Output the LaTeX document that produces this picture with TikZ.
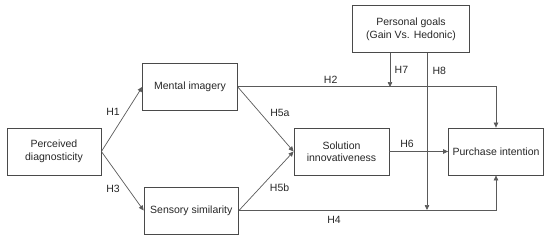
\documentclass[tikz,border=0pt]{standalone}
\usepackage{fontspec}
\setmainfont{Liberation Sans}
\usepackage{xcolor}
\usepackage{tikz}
\usetikzlibrary{arrows.meta,positioning}
\definecolor{edgegray}{HTML}{4A4A4A}
\definecolor{linegray}{HTML}{5A5A5A}

\begin{document}
\begin{tikzpicture}[x=1pt,y=-1pt,>={Triangle[length=5pt,width=4.5pt]},
    every node/.style={font=\fontsize{10.5}{12.5}\selectfont,text=black!85},
    varbox/.style={draw=edgegray,line width=0.8pt,align=center,inner sep=0pt,minimum height=47pt},
    path/.style={draw=linegray,line width=0.7pt}]
        \useasboundingbox (0,0) rectangle (550,241);
        \node[varbox,minimum width=94pt] (pd) at (54,151.5) {Perceived\\diagnosticity};
        \node[varbox,minimum width=94.5pt,minimum height=46.5pt] (mi) at (190,86.8) {Mental imagery};
        \node[varbox,minimum width=94.5pt] (ss) at (191.3,210.5) {Sensory similarity};
        \node[varbox,minimum width=95pt] (si) at (341.5,151.5) {Solution\\innovativeness};
        \node[varbox,minimum width=95pt] (pi) at (496,151.5) {Purchase intention};
        \node[varbox,minimum width=117.5pt] (pg) at (411,29.2) {Personal goals\\(Gain Vs. Hedonic)};
        \coordinate (h7) at (390,87);
        \coordinate (h8) at (427,210);
        % paths
        \draw[path,->] (pd.east) -- (mi.west) node[pos=0.61,left=3pt] {H1};
        \draw[path,->] (pd.east) -- (ss.west) node[pos=0.64,left=5pt] {H3};
        \draw[path,->] (mi.east) -- (si.west) node[pos=0.41,right=6pt] {H5a};
        \draw[path,->] (ss.east) -- (si.west) node[pos=0.39,right=6pt] {H5b};
        \draw[path,->] (si) -- (pi) node[pos=0.3,above] {H6};
        \draw[path,->] (mi.east) -| (pi.north) node[pos=0.18,above] {H2};
        \draw[path,->] (ss.east) -| (pi.south) node[pos=0.185,below=2pt] {H4};
        % moderation
        \draw[path,->] (pg.south -| h7) -- (h7) node[pos=0.5,right=1pt] {H7};
        \draw[path,->] (pg.south -| h8) -- (h8);
        \node[right=2pt] (h8lbl) at (427,71) {H8};
      \end{tikzpicture}
\end{document}
